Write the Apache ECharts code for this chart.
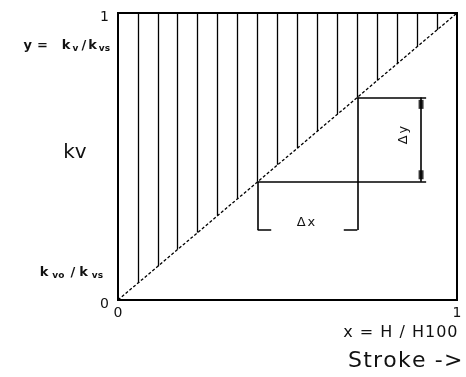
<!DOCTYPE html>
<html>
<head>
<meta charset="utf-8">
<script src="https://cdn.jsdelivr.net/npm/echarts@6/dist/echarts.min.js"></script>
<style>
  html, body { margin: 0; padding: 0; background: #fff; }
  #chart { width: 466px; height: 377px; }
</style>
</head>
<body>
<div id="chart"></div>
<script>
// Relative stroke positions of the vertical hatch lines above the characteristic
const hatchX = [0.059, 0.118, 0.176, 0.235, 0.294, 0.353, 0.412, 0.471,
                0.529, 0.588, 0.647, 0.706, 0.765, 0.824, 0.882, 0.941];
// Linear characteristic from (0,0) to (1,1)
const characteristic = [[0, 0], [1, 1]];
// Two points on the characteristic used for the Δx / Δy construction
const stepLow = 0.412;
const stepHigh = 0.706;
// Dimension-line geometry (in axis units)
const dyLineX = 0.894;
const dimLineEnd = 0.909;
const dxFoot = 0.244;
const dxTick = 0.04;
// Axis tick labels
const xTickLabels = ['0', '1'];
const yTickLabels = ['0', '1'];

const FONT = 'DejaVu Sans';
const chart = echarts.init(document.getElementById('chart'), null, { renderer: 'canvas' });

// Wraps every character in its own rich-text token so the glyphs get extra tracking
function tracked(str, key) {
  return Array.from(str).map(c => '{' + key + '|' + c + '}').join('');
}

const hatchSegments = hatchX.map(x => ({ coords: [[x, x], [x, 1]] }));
const dimSegments = [
  { coords: [[stepLow, stepLow], [dimLineEnd, stepLow]] },
  { coords: [[stepHigh, stepHigh], [dimLineEnd, stepHigh]] },
  { coords: [[stepLow, stepLow], [stepLow, dxFoot]] },
  { coords: [[stepHigh, stepHigh], [stepHigh, dxFoot]] },
  { coords: [[stepLow, dxFoot], [stepLow + dxTick, dxFoot]] },
  { coords: [[stepHigh - dxTick, dxFoot], [stepHigh, dxFoot]] },
  { coords: [[dyLineX, stepLow], [dyLineX, stepHigh]] }
];

const tickText = { fontFamily: FONT, fontSize: 14, color: '#111' };

const option = {
  animation: false,
  backgroundColor: '#fff',
  grid: {
    left: 118, right: 9, top: 13, bottom: 77,
    show: true, borderColor: '#000', borderWidth: 2, backgroundColor: 'transparent'
  },
  xAxis: {
    type: 'value', min: 0, max: 1, interval: 1,
    axisLine: { show: false }, axisTick: { show: false }, splitLine: { show: false },
    axisLabel: Object.assign({}, tickText, {
      margin: 6,
      formatter: v => xTickLabels[Math.round(v)]
    })
  },
  yAxis: {
    type: 'value', min: 0, max: 1, interval: 1,
    axisLine: { show: false }, axisTick: { show: false }, splitLine: { show: false },
    axisLabel: Object.assign({}, tickText, {
      margin: 9,
      formatter: v => '{t|' + yTickLabels[Math.round(v)] + '}',
      rich: { t: { fontFamily: FONT, fontSize: 14, color: '#111', padding: [8, 0, 0, 0] } }
    })
  },
  series: [
    {
      type: 'lines', coordinateSystem: 'cartesian2d', silent: true,
      data: hatchSegments,
      lineStyle: { color: '#000', width: 1.3, opacity: 1 }
    },
    {
      type: 'line', data: characteristic, showSymbol: false, silent: true,
      lineStyle: { color: '#000', width: 1.3, type: [3, 2] }
    },
    {
      type: 'lines', coordinateSystem: 'cartesian2d', silent: true,
      data: dimSegments,
      lineStyle: { color: '#000', width: 1.6, opacity: 1 }
    },
    {
      type: 'scatter', silent: true, symbol: 'rect', symbolSize: [5, 9],
      itemStyle: { color: '#000' },
      data: [
        { value: [dyLineX, stepHigh], symbolOffset: [0, 7] },
        { value: [dyLineX, stepLow], symbolOffset: [0, -7] }
      ]
    }
  ],
  graphic: [
    {
      type: 'text', x: 112, y: 46, silent: true,
      style: {
        text: '{m|y}{e|=}{k|k}{s|v}{m|/}{m|k}{s|vs}',
        align: 'right', verticalAlign: 'middle',
        rich: {
          m: { fontFamily: FONT, fontSize: 13, fontWeight: 'bold', fill: '#111', padding: [0, 1, 0, 1] },
          e: { fontFamily: FONT, fontSize: 13, fontWeight: 'bold', fill: '#111', padding: [0, 0, 0, 4] },
          k: { fontFamily: FONT, fontSize: 13, fontWeight: 'bold', fill: '#111', padding: [0, 1, 0, 14] },
          s: { fontFamily: FONT, fontSize: 9, fontWeight: 'bold', fill: '#111', padding: [5, 2, 0, 1] }
        }
      }
    },
    {
      type: 'text', x: 75, y: 153, silent: true,
      style: { text: 'kv', fontFamily: FONT, fontSize: 20, fill: '#111', align: 'center', verticalAlign: 'middle' }
    },
    {
      type: 'text', x: 107, y: 273, silent: true,
      style: {
        text: '{m|k}{s|vo}{m|/}{m|k}{s|vs}',
        align: 'right', verticalAlign: 'middle',
        rich: {
          m: { fontFamily: FONT, fontSize: 13, fontWeight: 'bold', fill: '#111', padding: [0, 2, 0, 2] },
          s: { fontFamily: FONT, fontSize: 9, fontWeight: 'bold', fill: '#111', padding: [5, 4, 0, 2] }
        }
      }
    },
    {
      type: 'text', x: 306, y: 223, silent: true,
      style: {
        text: tracked('Δx', 'c'), align: 'center', verticalAlign: 'middle',
        rich: { c: { fontFamily: FONT, fontSize: 13, fill: '#111', padding: [0, 1, 0, 1] } }
      }
    },
    {
      type: 'text', x: 404, y: 135, rotation: Math.PI / 2, silent: true,
      style: {
        text: tracked('Δy', 'c'), align: 'center', verticalAlign: 'middle',
        rich: { c: { fontFamily: FONT, fontSize: 13, fill: '#111', padding: [0, 1, 0, 1] } }
      }
    },
    {
      type: 'text', x: 458, y: 333, silent: true,
      style: {
        text: tracked('x = H / H100', 'c'), align: 'right', verticalAlign: 'middle',
        rich: { c: { fontFamily: FONT, fontSize: 16, fill: '#111', padding: [0, 0.5, 0, 0.5] } }
      }
    },
    {
      type: 'text', x: 463, y: 361, silent: true,
      style: {
        text: tracked('Stroke ->', 'c'), align: 'right', verticalAlign: 'middle',
        rich: { c: { fontFamily: FONT, fontSize: 22, fill: '#111', padding: [0, 0.6, 0, 0.6] } }
      }
    }
  ]
};

chart.setOption(option);
</script>
</body>
</html>
